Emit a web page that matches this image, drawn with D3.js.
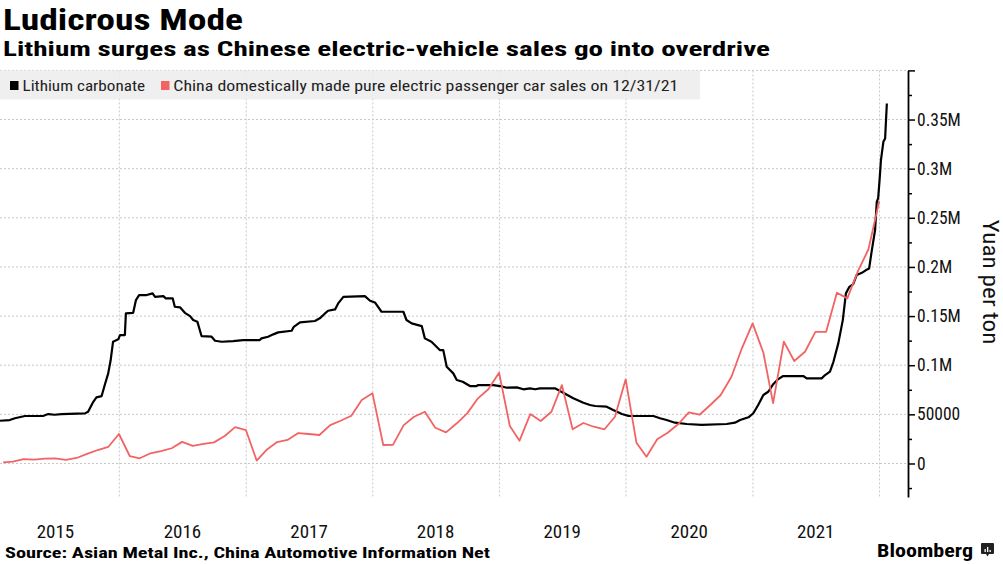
<!DOCTYPE html>
<html>
<head>
<meta charset="utf-8">
<script src="https://cdn.jsdelivr.net/npm/d3@7"></script>
<style>
  body { margin: 0; background: #fff; }
  svg text { font-family: "Liberation Sans Narrow", "Roboto Condensed", "Liberation Sans", sans-serif; }
</style>
</head>
<body>
<svg id="chart" width="1003" height="564"></svg>
<script>
// lithium carbonate price, yuan per ton
const lithiumDates = [
	"2015-01-22","2015-02-19","2015-03-06","2015-04-04","2015-05-26","2015-06-10","2015-06-29","2015-07-18",
	"2015-09-24","2015-10-03","2015-10-18","2015-10-27","2015-11-11","2015-11-20","2015-11-30","2015-12-07",
	"2015-12-14","2015-12-29","2016-01-03","2016-01-17","2016-01-20","2016-02-10","2016-02-18","2016-02-27",
	"2016-03-20","2016-04-06","2016-04-13","2016-05-07","2016-05-14","2016-06-03","2016-06-09","2016-06-24",
	"2016-07-08","2016-07-23","2016-08-01","2016-08-13","2016-08-25","2016-09-23","2016-10-03","2016-10-22",
	"2016-11-24","2016-12-23","2017-02-09","2017-02-14","2017-03-05","2017-03-20","2017-04-03","2017-05-12",
	"2017-05-18","2017-06-05","2017-07-18","2017-08-01","2017-08-16","2017-08-25","2017-09-14","2017-09-23",
	"2017-10-08","2017-12-09","2017-12-24","2018-01-07","2018-01-26","2018-03-30","2018-04-08","2018-04-23",
	"2018-05-22","2018-05-31","2018-06-19","2018-07-13","2018-07-23","2018-08-02","2018-08-21","2018-08-31",
	"2018-09-17","2018-10-08","2018-10-27","2018-11-01","2018-12-14","2019-01-03","2019-01-22","2019-02-20",
	"2019-03-11","2019-03-30","2019-04-14","2019-04-28","2019-06-10","2019-07-04","2019-08-02","2019-08-31",
	"2019-09-19","2019-10-04","2019-11-06","2019-11-25","2019-12-20","2020-01-08","2020-03-20","2020-04-08",
	"2020-04-27","2020-05-21","2020-06-24","2020-08-06","2020-10-17","2020-11-10","2020-11-25","2020-12-19",
	"2021-01-02","2021-01-16","2021-01-31","2021-02-14","2021-03-01","2021-03-15","2021-03-29","2021-05-26",
	"2021-06-05","2021-07-18","2021-07-28","2021-08-11","2021-08-21","2021-09-04","2021-09-17","2021-09-26",
	"2021-10-06","2021-10-17","2021-10-27","2021-11-11","2021-11-23","2021-12-02","2021-12-09","2021-12-19",
	"2021-12-24","2021-12-28","2022-01-01","2022-01-05","2022-01-12","2022-01-17","2022-01-22"
];
const lithiumPrice = [
	43500,44200,46000,48300,48300,50300,49600,50300,
	51000,52700,62800,67300,68600,79800,91700,105000,
	123900,126300,130700,130700,152700,153300,166300,171400,
	171400,173100,169600,170300,168000,168000,159500,158900,
	153300,150000,146000,144300,129700,129000,124900,123900,
	124600,125600,125600,127300,129000,131400,133400,135100,
	139100,143600,145000,147700,152700,155400,156800,162900,
	169600,170300,165600,163900,154400,154400,146000,142600,
	139800,127300,123900,115400,115400,98400,91700,84900,
	83200,78800,78800,79800,79800,78800,77100,77500,
	75500,76500,75500,76500,76500,72000,66300,61800,
	59500,58500,57800,54400,50300,48400,48300,46000,
	44200,41500,40200,39200,40200,41500,44200,47000,
	51100,59500,69700,73000,80900,85900,89000,89000,
	86600,86600,90000,93400,103500,122200,145900,173100,
	179800,182500,191700,194000,196800,198500,215400,237500,
	266200,270000,288300,308700,327300,330700,366300
];

// China domestically made pure electric passenger car sales, monthly
const evMonths = [
	"2015-01","2015-02","2015-03","2015-04","2015-05","2015-06","2015-07","2015-08","2015-09","2015-10","2015-11","2015-12",
	"2016-01","2016-02","2016-03","2016-04","2016-05","2016-06","2016-07","2016-08","2016-09","2016-10","2016-11","2016-12",
	"2017-01","2017-02","2017-03","2017-04","2017-05","2017-06","2017-07","2017-08","2017-09","2017-10","2017-11","2017-12",
	"2018-01","2018-02","2018-03","2018-04","2018-05","2018-06","2018-07","2018-08","2018-09","2018-10","2018-11","2018-12",
	"2019-01","2019-02","2019-03","2019-04","2019-05","2019-06","2019-07","2019-08","2019-09","2019-10","2019-11","2019-12",
	"2020-01","2020-02","2020-03","2020-04","2020-05","2020-06","2020-07","2020-08","2020-09","2020-10","2020-11","2020-12",
	"2021-01","2021-02","2021-03","2021-04","2021-05","2021-06","2021-07","2021-08","2021-09","2021-10","2021-11","2021-12"
];
const evSales = [
	1200,1800,4500,4000,5000,5300,3600,5600,9700,13700,16800,30000,
	7600,5300,10400,12500,15500,22000,18000,20000,21500,28000,37000,34000,
	3000,13700,21800,24000,31000,30000,29000,39000,43500,48600,64600,71400,
	18800,19000,39000,47600,52700,36400,31700,40900,51000,66300,75500,92300,
	38100,23200,50300,43200,52700,79800,34800,41200,37400,34800,47600,85600,
	21200,6900,24600,31300,40200,52100,49600,59500,69700,88300,117200,142600,
	112700,61500,124000,104300,113700,134000,134000,173700,168000,196000,218000,267000
];

const yMajorTicks = [0, 50000, 100000, 150000, 200000, 250000, 300000, 350000, 400000];
const yMinorTicks = [-25000, 25000, 75000, 125000, 175000, 225000, 275000, 325000, 375000];
const yearLabels = [2015, 2016, 2017, 2018, 2019, 2020, 2021];
const yearLines = [2016, 2017, 2018, 2019, 2020, 2021, 2022];

const parseDay = d3.timeParse("%Y-%m-%d");
const parseMonth = d3.timeParse("%Y-%m");

let svg = d3.select("#chart");
let plotTop = 70.4, plotBottom = 496.9, plotRight = 908;

let x = d3.scaleTime()
	.domain([new Date(2015, 0, 22), new Date(2022, 2, 24)])
	.range([0, plotRight]);
let y = d3.scaleLinear()
	.domain([-34000, 400000])
	.range([plotBottom, plotTop]);

// gridlines
let grid = svg.append("g").attr("class", "grid");
grid.selectAll(".hgrid")
	.data(yMajorTicks)
	.enter().append("line")
	.attr("x1", 0).attr("x2", plotRight)
	.attr("y1", d => y(d)).attr("y2", d => y(d))
	.attr("stroke", "#c8c8c8").attr("stroke-dasharray", "2,2");
grid.selectAll(".vgrid")
	.data(yearLines)
	.enter().append("line")
	.attr("x1", d => x(new Date(d, 0, 1))).attr("x2", d => x(new Date(d, 0, 1)))
	.attr("y1", plotTop).attr("y2", plotBottom)
	.attr("stroke", "#c8c8c8").attr("stroke-dasharray", "2,2");

// title + subtitle
svg.append("text")
	.attr("x", 3).attr("y", 30)
	.attr("font-size", 30).attr("font-weight", "bold")
	.attr("textLength", 240).attr("lengthAdjust", "spacingAndGlyphs")
	.text("Ludicrous Mode");
svg.append("text")
	.attr("x", 3).attr("y", 56)
	.attr("font-size", 19.5).attr("font-weight", "bold")
	.attr("textLength", 767).attr("lengthAdjust", "spacingAndGlyphs")
	.text("Lithium surges as Chinese electric-vehicle sales go into overdrive");

// legend
let legend = svg.append("g");
legend.append("rect")
	.attr("x", 0).attr("y", plotTop).attr("width", 700).attr("height", 29)
	.attr("fill", "#ececec").attr("opacity", 0.85);
legend.append("rect").attr("x", 10).attr("y", 81).attr("width", 8.5).attr("height", 9).attr("fill", "#000");
legend.append("text")
	.attr("x", 22.5).attr("y", 90.5).attr("font-size", 15.5).attr("fill", "#222")
	.attr("textLength", 122.5).attr("lengthAdjust", "spacingAndGlyphs")
	.text("Lithium carbonate");
legend.append("rect").attr("x", 161).attr("y", 81).attr("width", 8.5).attr("height", 9).attr("fill", "#f26464");
legend.append("text")
	.attr("x", 173.3).attr("y", 90.5).attr("font-size", 15.5).attr("fill", "#222")
	.attr("textLength", 505).attr("lengthAdjust", "spacingAndGlyphs")
	.text("China domestically made pure electric passenger car sales on 12/31/21");

// lines
let lithium = lithiumDates.map((d, i) => ({ date: parseDay(d), value: lithiumPrice[i] }));
let ev = evMonths.map((m, i) => ({
	date: d3.timeDay.offset(d3.timeMonth.offset(parseMonth(m), 1), -1),
	value: evSales[i]
}));

let line = d3.line()
	.x(d => x(d.date))
	.y(d => y(d.value));

svg.append("path")
	.datum(lithium)
	.attr("fill", "none")
	.attr("stroke", "#000")
	.attr("stroke-width", 2.2)
	.attr("stroke-linejoin", "round")
	.attr("d", line);

svg.append("path")
	.datum(ev)
	.attr("fill", "none")
	.attr("stroke", "#f26464")
	.attr("stroke-width", 1.8)
	.attr("stroke-linejoin", "round")
	.attr("d", line);

// right axis
let axisG = svg.append("g")
	.attr("transform", "translate(" + plotRight + ",0)");
axisG.append("g")
	.call(d3.axisRight(y).tickValues(yMinorTicks).tickSize(4).tickSizeOuter(0).tickFormat(""))
	.call(g => g.select(".domain").remove());
axisG.append("g")
	.attr("class", "axis axis--y")
	.call(d3.axisRight(y)
		.tickValues(yMajorTicks)
		.tickSize(7)
		.tickSizeOuter(0)
		.tickPadding(2)
		.tickFormat(d => d === 400000 ? "" : (d === 0 || d === 50000 ? String(d) : (d / 1e6) + "M")));
axisG.selectAll("line").attr("stroke", "#000").attr("stroke-width", 1.5);
axisG.selectAll(".domain").attr("stroke", "#000").attr("stroke-width", 1.8);
axisG.selectAll("text")
	.attr("font-size", 17.5)
	.attr("fill", "#111")
	.attr("font-family", "\"DejaVu Sans Condensed\", \"Liberation Sans Narrow\", \"Roboto Condensed\", sans-serif");

svg.append("text")
	.attr("transform", "translate(983,282) rotate(90)")
	.attr("text-anchor", "middle")
	.attr("font-size", 22)
	.attr("fill", "#111")
	.attr("textLength", 125).attr("lengthAdjust", "spacingAndGlyphs")
	.text("Yuan per ton");

// year labels
svg.selectAll(".year")
	.data(yearLabels)
	.enter().append("text")
	.attr("class", "year")
	.attr("x", d => x(new Date(d, 6, 1)))
	.attr("y", 538)
	.attr("text-anchor", "middle")
	.attr("font-size", 19)
	.attr("fill", "#111")
	.text(d => d);

// source
svg.append("text")
	.attr("x", 5).attr("y", 558)
	.attr("font-size", 15).attr("font-weight", "bold")
	.attr("textLength", 485).attr("lengthAdjust", "spacingAndGlyphs")
	.text("Source: Asian Metal Inc., China Automotive Information Net");

// Bloomberg mark
svg.append("text")
	.attr("x", 877).attr("y", 557)
	.attr("font-size", 19).attr("font-weight", "bold")
	.attr("font-family", "\"Liberation Sans\", Arial, sans-serif")
	.attr("textLength", 96).attr("lengthAdjust", "spacingAndGlyphs")
	.text("Bloomberg");
let logo = svg.append("g").attr("transform", "translate(981,543)");
logo.append("path")
	.attr("d", "M1,0 H12 Q13,0 13,1 V10 Q13,11 12,11 H8 L6.5,13.5 L5,11 H1 Q0,11 0,10 V1 Q0,0 1,0 Z")
	.attr("fill", "#222");
logo.selectAll(".bar")
	.data([[3.5, 6], [6, 4], [8.5, 7]])
	.enter().append("rect")
	.attr("x", d => d[0]).attr("y", d => d[1])
	.attr("width", 1.3).attr("height", d => 9 - d[1])
	.attr("fill", "#fff");
</script>
</body>
</html>
